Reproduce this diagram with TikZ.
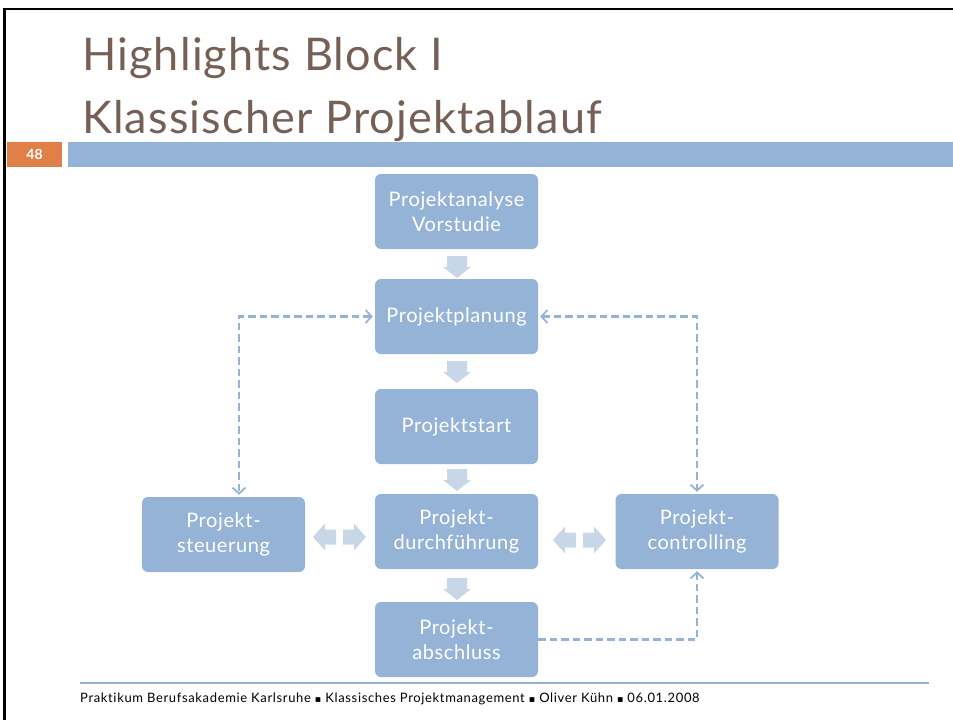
\documentclass[tikz,border=0pt]{standalone}
\usepackage{fontspec}
\setmainfont{Lato}
\newfontfamily\titlefont[LetterSpace=2.6]{Lato}
\newfontfamily\boxfont[LetterSpace=3]{Lato}
\newfontfamily\footfont[LetterSpace=5,Ligatures=NoCommon]{Lato}
\newfontfamily\symfont{DejaVu Sans}
\usetikzlibrary{arrows.meta}
\definecolor{boxblue}{RGB}{149,179,215}
\definecolor{lightblue}{RGB}{200,215,231}
\definecolor{titlebrown}{RGB}{118,96,86}
\definecolor{numorange}{RGB}{224,128,72}
\tikzset{
  stage/.style={fill=boxblue, rounded corners=6pt, minimum width=163pt, minimum height=75pt,
    text=white, font=\boxfont\fontsize{20pt}{25pt}\selectfont, align=center, inner sep=0pt},
  fb/.style={draw=boxblue, line width=2.2pt, dash pattern=on 7.5pt off 4pt,
    >={Straight Barb[length=6pt,width=13pt,line width=1.8pt]}},
  pics/downarr/.style={code={\fill[lightblue] (-10,0) -- (10,0) -- (10,11) -- (14,11) -- (0,22) -- (-14,11) -- (-10,11) -- cycle;}},
  pics/leftarr/.style={code={\fill[lightblue] (0,0) -- (12,-13.5) -- (12,-7.5) -- (23,-7.5) -- (23,7.5) -- (12,7.5) -- (12,13.5) -- cycle;}},
  pics/rightarr/.style={code={\fill[lightblue] (0,0) -- (-12,-13.5) -- (-12,-7.5) -- (-23,-7.5) -- (-23,7.5) -- (-12,7.5) -- (-12,13.5) -- cycle;}},
}
\newcommand{\fbul}{{\symfont\fontsize{9.5pt}{10pt}\selectfont ▪}}
\begin{document}
\begin{tikzpicture}[x=1pt,y=-1pt]
\useasboundingbox (0,0) rectangle (953,720);
% frame
\draw[line width=2.5pt] (4.5,720) -- (4.5,9) -- (953,9);
% title
\node[anchor=base west, inner sep=0pt, text=titlebrown, font=\titlefont\fontsize{45pt}{50pt}\selectfont] (t1) at (82,70) {Highlights Block I};
\node[anchor=base west, inner sep=0pt, text=titlebrown, font=\titlefont\fontsize{45pt}{50pt}\selectfont] (t2) at (82,133) {Klassischer Projektablauf};
% number and bar
\fill[numorange] (7,142) rectangle (62,167);
\node[text=white, font=\bfseries\fontsize{14pt}{16pt}\selectfont, inner sep=0pt] (num) at (34.5,154.5) {48};
\fill[boxblue] (68,142) rectangle (953,167);
% stages
\node[stage] (ana) at (456.5,211.5) {Projektanalyse\\Vorstudie};
\node[stage] (plan) at (456.5,316.5) {Projektplanung};
\node[stage] (start) at (456.5,426.5) {Projektstart};
\node[stage] (durch) at (456.5,531.5) {Projekt-\\durchführung};
\node[stage] (absch) at (456.5,639.5) {Projekt-\\abschluss};
\node[stage] (steu) at (223.5,534.5) {Projekt-\\steuerung};
\node[stage] (contr) at (697,531.5) {Projekt-\\controlling};
% block arrows
\pic at (457,256) {downarr};
\pic at (457,361) {downarr};
\pic at (457,469) {downarr};
\pic at (457,578) {downarr};
\pic at (313,537) {leftarr};
\pic at (366,537) {rightarr};
\pic at (553,540) {leftarr};
\pic at (606,540) {rightarr};
% feedback connectors
\coordinate (sl) at (239,316.5);
\coordinate (cr) at (697,316.5);
\draw[fb, <->, shorten >=2pt, shorten <=2pt] (plan.west) -- (sl) -- (sl |- steu.north);
\draw[fb, <->, shorten >=2pt, shorten <=2pt] (plan.east) -- (cr) -- (contr.north);
\draw[fb, ->, shorten >=2pt] (absch.east) -- (absch.east -| contr.south) -- (contr.south);
% footer
\draw[boxblue, line width=2pt] (80,683) -- (929,683);
\node[anchor=base west, inner sep=0pt, font=\footfont\fontsize{13pt}{14pt}\selectfont] (foot) at (80,702) {Praktikum Berufsakademie Karlsruhe \fbul{} Klassisches Projektmanagement \fbul{} Oliver Kühn \fbul{} 06.01.2008};
\end{tikzpicture}
\end{document}
